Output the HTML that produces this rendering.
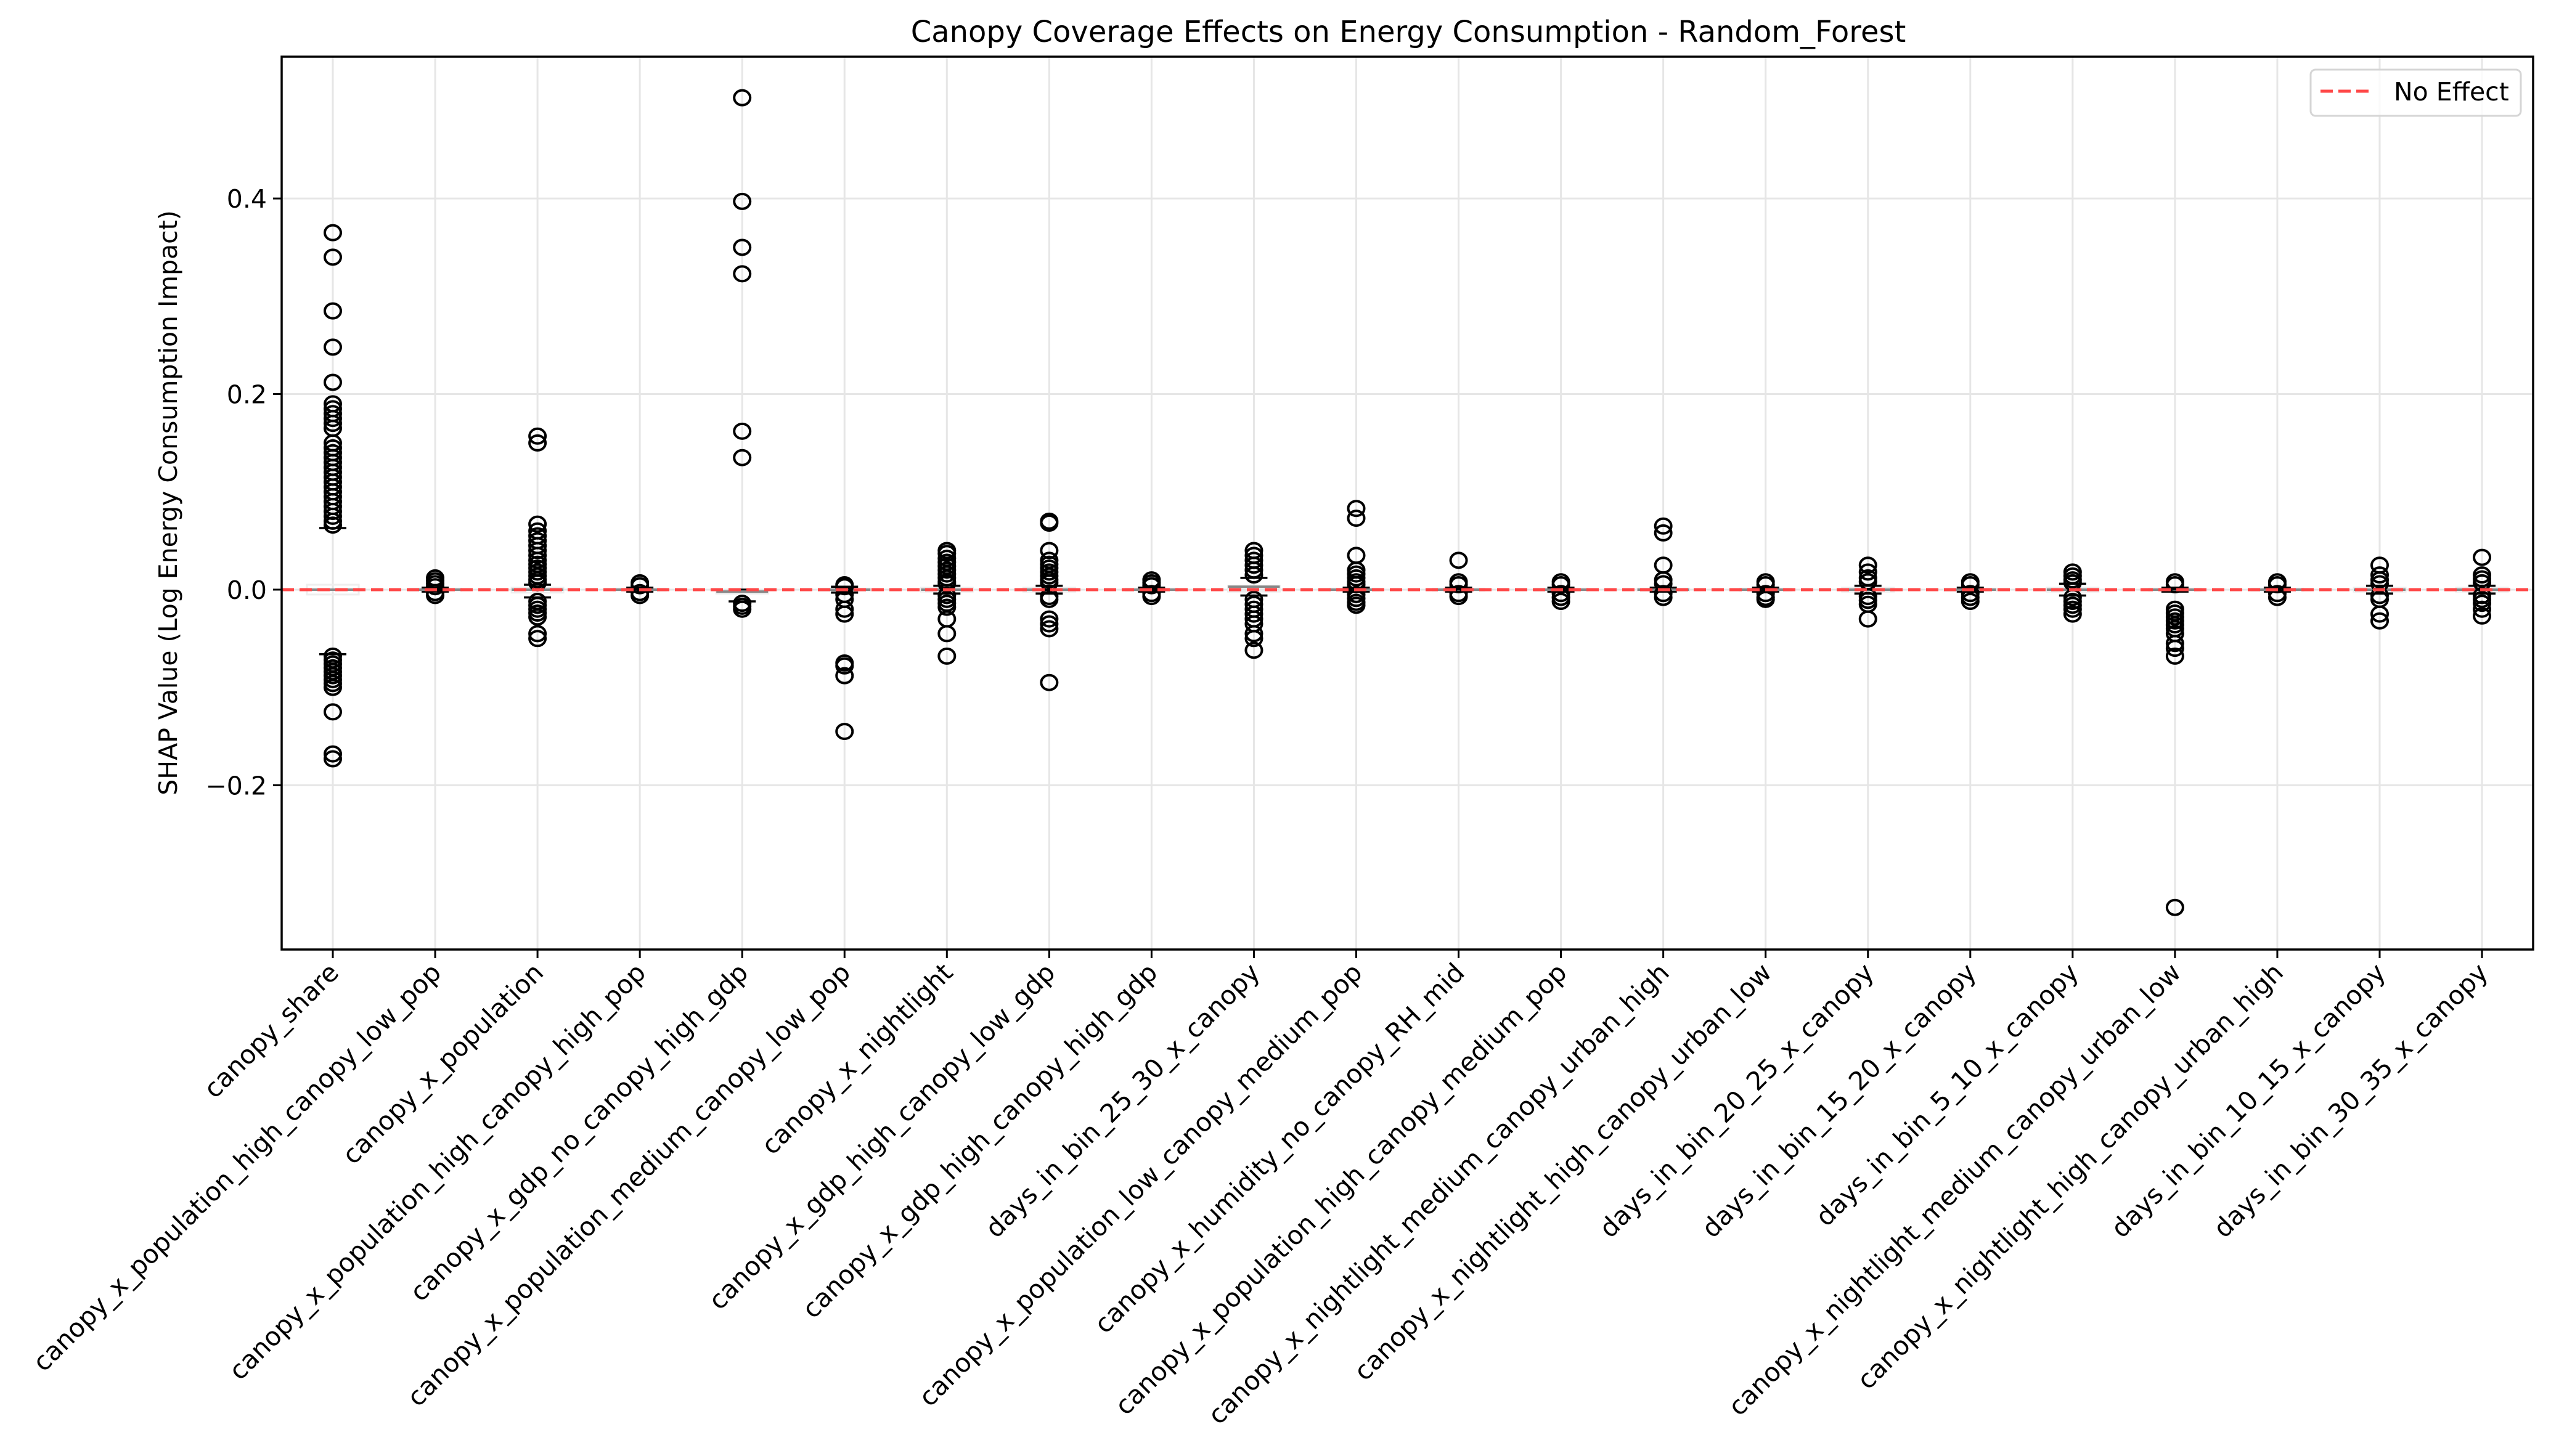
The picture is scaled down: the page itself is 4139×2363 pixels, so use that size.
<!DOCTYPE html>
<html><head><meta charset="utf-8"><style>
html,body{margin:0;padding:0;background:#fff;}
svg{display:block;font-family:"DejaVu Sans","Liberation Sans",sans-serif;}
</style></head><body>
<svg id="chart" width="4139" height="2363" viewBox="0 0 4139 2363" xmlns="http://www.w3.org/2000/svg">
<rect x="0" y="0" width="4139" height="2363" fill="#fff"/>
<text x="2285" y="68" text-anchor="middle" font-size="48" fill="#000">Canopy Coverage Effects on Energy Consumption - Random_Forest</text>
<g id="grid"></g>
<g id="boxes"></g>
<g id="points"></g>
<line id="zeroline" stroke="#ff4747" stroke-width="5" stroke-dasharray="20,9"/>
<rect x="457" y="92" width="3653" height="1449" fill="none" stroke="#000" stroke-width="3.5"/>
<g id="axes"></g>
<text transform="translate(287,816) rotate(-90)" text-anchor="middle" font-size="41" fill="#000">SHAP Value (Log Energy Consumption Impact)</text>
<g>
<rect x="3749" y="113" width="341" height="75" rx="8" fill="#fff" fill-opacity="0.8" stroke="#d5d5d5" stroke-width="3"/>
<line x1="3765" y1="148" x2="3849" y2="148" stroke="#ff4747" stroke-width="5" stroke-dasharray="20,9"/>
<text x="3884" y="163" font-size="41" fill="#000">No Effect</text>
</g>
</svg>
<script>
const categories = ["canopy_share","canopy_x_population_high_canopy_low_pop","canopy_x_population","canopy_x_population_high_canopy_high_pop","canopy_x_gdp_no_canopy_high_gdp","canopy_x_population_medium_canopy_low_pop","canopy_x_nightlight","canopy_x_gdp_high_canopy_low_gdp","canopy_x_gdp_high_canopy_high_gdp","days_in_bin_25_30_x_canopy","canopy_x_population_low_canopy_medium_pop","canopy_x_humidity_no_canopy_RH_mid","canopy_x_population_high_canopy_medium_pop","canopy_x_nightlight_medium_canopy_urban_high","canopy_x_nightlight_high_canopy_urban_low","days_in_bin_20_25_x_canopy","days_in_bin_15_20_x_canopy","days_in_bin_5_10_x_canopy","canopy_x_nightlight_medium_canopy_urban_low","canopy_x_nightlight_high_canopy_urban_high","days_in_bin_10_15_x_canopy","days_in_bin_30_35_x_canopy"];
const medians = [0,0,0,0,-0.002,0,0,0,0,0.003,0,0,0,0,0,0,0,0,0,0,0,0];
const boxLow = [-0.005,-0.001,-0.003,-0.001,-0.004,-0.001,-0.002,-0.002,-0.001,-0.002,-0.001,-0.001,-0.001,-0.001,-0.001,-0.002,-0.001,-0.002,-0.001,-0.001,-0.002,-0.002];
const boxHigh = [0.005,0.001,0.002,0.001,-0.001,0.001,0.002,0.002,0.001,0.004,0.001,0.001,0.001,0.001,0.001,0.002,0.001,0.002,0.001,0.001,0.002,0.002];
const capLow = [-0.066,-0.002,-0.008,-0.002,-0.012,-0.003,-0.004,-0.004,-0.002,-0.006,-0.002,-0.002,-0.002,-0.002,-0.002,-0.004,-0.002,-0.006,-0.002,-0.002,-0.004,-0.004];
const capHigh = [0.063,0.002,0.005,0.002,0.0,0.003,0.004,0.004,0.002,0.012,0.002,0.002,0.002,0.002,0.002,0.004,0.002,0.006,0.002,0.002,0.004,0.004];
const outliers = [
 [0.365,0.340,0.285,0.248,0.212,0.19,0.185,0.18,0.175,0.17,0.165,0.15,0.145,0.14,0.135,0.13,0.125,0.12,0.115,0.11,0.105,0.1,0.095,0.09,0.085,0.08,0.075,0.07,0.066,-0.068,-0.072,-0.076,-0.08,-0.084,-0.088,-0.092,-0.096,-0.1,-0.125,-0.168,-0.173],
 [0.012,0.009,0.006,0.003,-0.003,-0.006],
 [0.157,0.150,0.067,0.06,0.055,0.05,0.045,0.04,0.035,0.03,0.026,0.022,0.018,0.014,0.01,0.007,-0.012,-0.016,-0.02,-0.024,-0.028,-0.045,-0.05],
 [0.007,0.004,-0.003,-0.006],
 [0.503,0.397,0.35,0.323,0.162,0.135,-0.014,-0.017,-0.02],
 [0.005,0.003,-0.005,-0.01,-0.02,-0.025,-0.075,-0.078,-0.088,-0.145],
 [0.04,0.037,0.032,0.028,0.024,0.02,0.016,0.012,0.008,0.006,-0.006,-0.01,-0.014,-0.018,-0.03,-0.045,-0.068],
 [0.07,0.068,0.04,0.03,0.026,0.022,0.018,0.014,0.01,0.007,-0.007,-0.01,-0.03,-0.035,-0.04,-0.095],
 [0.01,0.007,0.004,-0.004,-0.007],
 [0.04,0.035,0.03,0.025,0.02,0.015,-0.01,-0.015,-0.02,-0.025,-0.03,-0.035,-0.045,-0.05,-0.062],
 [0.083,0.073,0.035,0.02,0.016,0.012,0.008,0.005,-0.005,-0.009,-0.013,-0.016],
 [0.03,0.008,0.005,-0.004,-0.007],
 [0.008,0.005,-0.004,-0.008,-0.012],
 [0.065,0.058,0.025,0.01,0.006,-0.004,-0.008],
 [0.008,0.005,-0.004,-0.008,-0.01],
 [0.025,0.018,0.012,0.008,-0.007,-0.011,-0.015,-0.03],
 [0.008,0.005,-0.004,-0.008,-0.012],
 [0.018,0.014,0.01,0.007,-0.008,-0.012,-0.016,-0.02,-0.025],
 [0.008,0.005,-0.02,-0.024,-0.028,-0.032,-0.036,-0.04,-0.045,-0.055,-0.06,-0.068,-0.325],
 [0.008,0.005,-0.004,-0.008],
 [0.025,0.015,0.01,0.006,-0.006,-0.01,-0.025,-0.032],
 [0.033,0.015,0.011,0.007,-0.006,-0.01,-0.014,-0.02,-0.027]
];
const yTicks = [-0.2,0.0,0.2,0.4];
const yTickLabels = ["\u22120.2","0.0","0.2","0.4"];

const NS="http://www.w3.org/2000/svg";
const L=457,R=4110,T=92,B=1541;
const yMin=-0.368,yMax=0.545;
function yS(v){return B-(v-yMin)/(yMax-yMin)*(B-T);}
function xS(i){return 540+i*166.05;}
function mk(tag,attrs,parent){const e=document.createElementNS(NS,tag);for(const k in attrs)e.setAttribute(k,attrs[k]);parent.appendChild(e);return e;}
const grid=document.getElementById('grid'),boxes=document.getElementById('boxes'),pts=document.getElementById('points'),axes=document.getElementById('axes');
categories.forEach((c,i)=>{
  const x=xS(i);
  const g=mk('line',{x1:x,y1:T,x2:x,y2:B,stroke:'#e6e6e6','stroke-width':3},grid);
  
  
  const t=mk('line',{x1:x,y1:B,x2:x,y2:B+14,stroke:'#000','stroke-width':3},axes);
  
  
  const lb=mk('text',{transform:`translate(${x+12},${B+40}) rotate(-45)`,'text-anchor':'end','font-size':41.7,fill:'#000'},axes);
  lb.textContent=c;
  
  
  const bx=mk('rect',{x:x-42,y:yS(boxHigh[i]),width:84,height:Math.max(1,yS(boxLow[i])-yS(boxHigh[i])),fill:'none',stroke:'#eeeeee','stroke-width':3},boxes);
  
  
  [capLow[i],capHigh[i]].forEach(v=>{
    const cp=mk('line',{x1:x-22,y1:yS(v),x2:x+22,y2:yS(v),stroke:'#000','stroke-width':3.5},boxes);
    
    
  });
  const md=mk('line',{x1:x-42,y1:yS(medians[i]),x2:x+42,y2:yS(medians[i]),stroke:'#888','stroke-width':4},boxes);
  
  
  outliers[i].forEach(v=>{
    const p=mk('ellipse',{cx:x,cy:yS(v),rx:13,ry:12,fill:'none',stroke:'#000','stroke-width':4},pts);
    
    
  });
});
yTicks.forEach((v,j)=>{
  const y=yS(v);
  const g=mk('line',{x1:L,y1:y,x2:R,y2:y,stroke:'#e6e6e6','stroke-width':3},grid);
  
  
  const t=mk('line',{x1:L-14,y1:y,x2:L,y2:y,stroke:'#000','stroke-width':3},axes);
  
  
  const lb=mk('text',{x:L-24,y:y+15,'text-anchor':'end','font-size':41,fill:'#000'},axes);
  lb.textContent=yTickLabels[j];
  
  
});
const z=document.getElementById('zeroline');
z.setAttribute('x1',L);z.setAttribute('x2',R);z.setAttribute('y1',yS(0));z.setAttribute('y2',yS(0));
</script>
</body></html>
